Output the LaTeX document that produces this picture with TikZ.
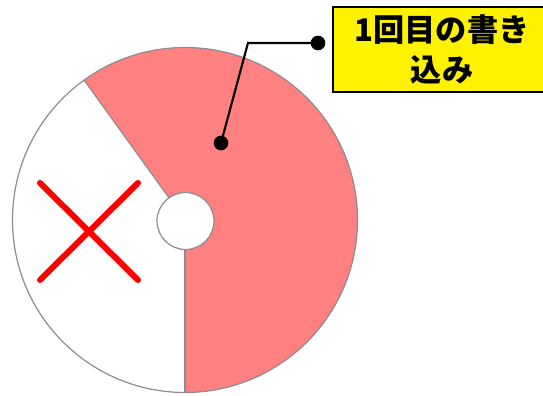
\documentclass[tikz,border=0pt]{standalone}
\usepackage{fontspec}
\newfontfamily\jpfont{Noto Sans CJK JP}
\begin{document}
\begin{tikzpicture}[x=0.75pt,y=0.75pt,
  discedge/.style={draw=black!45,line width=0.9pt},
  cross/.style={draw=red,line width=4.5pt,line cap=round},
  leader/.style={draw=black,line width=1.6pt},
  dotmark/.style={circle,fill=black,inner sep=0pt,minimum size=11pt},
  labelbox/.style={draw=black,line width=1.6pt,fill=yellow,minimum width=163.5pt,minimum height=64pt,align=center,inner sep=0pt,font=\jpfont\bfseries\fontsize{23.4}{29.5}\selectfont}]
\useasboundingbox (0,0) rectangle (543,396);
\coordinate (c) at (185,176);
% disc
\fill[white] (c) circle[radius=172.5];
\fill[fill={rgb,255:red,255;green,128;blue,128}] (c) -- ++(-90:172.5) arc[start angle=-90,end angle=125.8,radius=172.5] -- cycle;
\draw[discedge] (c) circle[radius=172.5];
\draw[discedge] (c) -- ++(-90:172.5);
\draw[discedge] (c) -- ++(125.8:172.5);
\fill[white] (185.5,175) circle[radius=28.5];
\draw[discedge] (185.5,175) circle[radius=28.5];
% cross
\draw[cross] (40,213) -- (138,116);
\draw[cross] (138,213) -- (40,116);
% label
\node[labelbox] (lbl) at (442,346.5) {1回目の書き\\込み};
\node[dotmark] (d1) at (318,353) {};
\node[dotmark] (d2) at (221,253) {};
\coordinate (bend) at (248,353);
\draw[leader] (d1.center) -- (bend) -- (d2.center);
\end{tikzpicture}
\end{document}
